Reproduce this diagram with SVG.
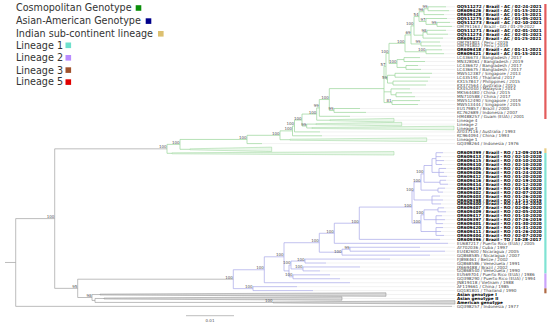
<svg xmlns="http://www.w3.org/2000/svg" width="550" height="324" viewBox="0 0 550 324">
<style>
path{fill:none;stroke-width:0.7}
.g{stroke:#98d498}.p{stroke:#a8a8e8}.k{stroke:#a0a0a0}
.gd{stroke:#e4e4e4;stroke-width:0.5}
.wg{fill:#eaf7ea;stroke:#98d498;stroke-width:0.5}
.wk{fill:#d8d8d8;stroke:#8a8a8a;stroke-width:0.5}
text{font-family:"DejaVu Sans",Verdana,sans-serif}
.lb{font-size:4.2px;fill:#444}
.b{font-weight:bold;fill:#000}
.s{font-size:4px;fill:#555;text-anchor:end}
.lg{font-size:9.6px;fill:#333}
</style>
<g id="legend">
<text class="lg" x="16" y="11">Cosmopolitan Genotype</text><rect x="135.7" y="5.2" width="5.6" height="5.6" fill="#0a8f0a"/>
<text class="lg" x="16" y="24">Asian-American Genotype</text><rect x="145.7" y="18.3" width="5.6" height="5.6" fill="#00008b"/>
<text class="lg" x="16" y="36.7">Indian sub-continent lineage</text><rect x="158" y="31" width="5.6" height="5.6" fill="#dcc070"/>
<text class="lg" x="16" y="48.7">Lineage 1</text><rect x="65.5" y="42.5" width="5.6" height="5.6" fill="#6ee0cc"/>
<text class="lg" x="16" y="61">Lineage 2</text><rect x="65.5" y="55" width="5.6" height="5.6" fill="#b98cff"/>
<text class="lg" x="16" y="73.7">Lineage 3</text><rect x="65.5" y="67.3" width="5.6" height="5.6" fill="#a0522d"/>
<text class="lg" x="16" y="85.3">Lineage 5</text><rect x="65.5" y="79.3" width="5.6" height="5.6" fill="#e00000"/>
</g>
<g id="bars">
<rect x="544.3" y="4" width="2.2" height="115" fill="#e35b5b"/>
<rect x="544.3" y="148.3" width="2.2" height="4.7" fill="#e8cf8a"/>
<rect x="544.3" y="153" width="2.2" height="120.5" fill="#7fe3d3"/>
<rect x="544.3" y="273.5" width="2.2" height="14.8" fill="#c9a3fa"/>
<rect x="544.3" y="288.3" width="2.2" height="5" fill="#b06a45"/>
</g>
<g id="connectors">
<path class="gd" d="M446 6.8H455M449 10.7H455M444 14.6H455M447 18.5H455M450 22.4H455M452 26.4H455M446 30.3H455M448 34.2H455M443 38.1H455M440 42H455M441 45.9H455M442 49.8H455M444 53.7H455M420 57.6H455M425 61.5H455M418 65.5H455M421 69.4H455M432 73.3H455M430 77.2H455M428 81.1H455M426 85H455M410 88.9H455M412 92.8H455M415 96.7H455M420 100.6H455M418 104.5H455M360 108.5H455M366 112.4H455M350 116.3H455M394 120.2H455M401.7 124.1H455M320 131.9H455M322 135.8H455M426.7 139.7H455M262 143.6H455
M443 152.7H455M441 156.64H455M444 160.58H455M442 164.52H455M446 168.46H455M444 172.4H455M447 176.34H455M446 180.28H455M448 184.22H455M445 188.16H455M443 192.1H455M440 196.04H455M443 199.98H455M441 203.92H455M444 207.86H455M446 211.8H455M442 215.74H455M445 219.68H455M443 223.62H455M443 227.56H455M441 231.5H455M444 235.44H455M440 239.38H455M448 243.32H455M420 247.26H455M445 251.2H455M430 255.14H455M390 259.08H455M326 263.02H455M360 266.96H455M320 270.9H455M330 274.84H455M340 278.78H455M350 282.72H455M297 286.66H455M313 290.6H455M386 294.54H455M342 298.48H455M452 306.36H455"/>
<path class="g" d="M446 6.8H428V10.7H449M428 8.75H424V14.6H444M450 22.4H437V26.4H452M447 18.5H426V24.4H437M424 11.7H419V21.45H426M446 30.3H427V34.2H448M427 32.25H423V38.1H443M419 16.56H414V35.18H423M440 42H421V45.9H441M414 25.87H411V43.95H421M442 49.8H426V53.7H444M411 34.91H405V51.75H426M420 57.6H404V61.5H425M418 65.5H406V69.4H421M404 59.55H397V67.45H406M405 43.33H389V63.5H397M432 73.3H395V77.2H430M428 81.1H393V85H426M395 75.25H387.5V83.05H393M389 53.41H386V79.15H387.5M412 92.8H396V96.7H415M410 88.9H391V94.75H396M420 100.6H392V104.5H418M386 66.28H384V102.55H392M384 91.83H391M360 108.5H334V112.4H366M384 88.6H329.3V110.45H334M329.3 99.53H319.3V116.3H350M319.3 107.9H316.7V120.2H330M316 124.1H306.7V128H312M316.7 114.05H302V126.05H306.7M302 120.05H294.5V131.9H320M294.5 125.98H292.5V135.8H322M292.5 130.89H280V139.7H290M280 135.3H247V143.6H262M247 139.45H180V149.3H190M180 144.38H167V153.3H172"/>
<path class="p" d="M436 152.7V164.52M436 152.7H443M436 156.64H441M436 160.58H444M436 164.52H442M439 168.46V176.34M439 168.46H446M439 172.4H444M439 176.34H447M436 158.61H432V172.4H439M446 180.28H440V184.22H448M432 165.5H424V182.25H440M445 188.16H438V192.1H443M424 173.88H421V190.13H438M432 196.04V203.92M432 196.04H440M432 199.98H443M432 203.92H441M421 182H414V199.98H432M444 207.86H438V211.8H446M436 215.74V223.62M436 215.74H442M436 219.68H445M436 223.62H443M438 209.83H424V219.68H436M436 227.56V235.44M436 227.56H443M436 231.5H441M436 235.44H444M424 214.76H421V231.5H436M414 191H412V223.13H421M412 207.07H359.3V239.38H440M359.3 223.23H334.3V243.32H448M420 247.26H350V251.2H445M350 249.23H342V255.14H430M334.3 233.28H319.3V252.19H342M390 259.08H305V263.02H326M360 266.96H303V270.9H320M305 261.05H291V268.93H303M330 274.84H293V278.78H340M291 264.99H289V276.81H293M319.3 242.73H284V270.9H289M284 256.8H264.3V282.72H350M297 286.66H253V290.6H313M264.3 269.76H233.3V288.63H253"/>
<path class="k" d="M167 148.84H54.7V288.35H77.7M233.3 279.2H77.7V297.5H92M100 294.54H92V300.45H95M104 298.48H95V302.42H273M54.7 218.6H15.7V306.36H452M5 262.48H15.7"/>
<polygon class="wg" points="330,119.7 394,118.4 394,122 330,120.7"/>
<polygon class="wg" points="316,123.6 401.7,122.3 401.7,125.9 316,124.6"/>
<polygon class="wg" points="312,127.5 454,126.2 454,129.8 312,128.5"/>
<polygon class="wg" points="290,139.2 426.7,137.9 426.7,141.5 290,140.2"/>
<polygon class="wg" points="190,148.8 271.7,147.1 271.7,151.5 190,149.8"/>
<polygon class="wg" points="172,152.8 394,151.6 394,155 172,153.8"/>
<polygon class="wk" points="100,294.1 386,292.8 386,296.3 100,295"/>
<polygon class="wk" points="104,298 342,296.8 342,300.2 104,299"/>
<polygon class="wk" points="273,302 455,300.7 455,304.1 273,302.9"/>
</g>
<g id="support">
<text class="s" x="427.6" y="8.25">99</text><text class="s" x="423.6" y="11.2">96</text><text class="s" x="436.6" y="23.9">99</text><text class="s" x="425.6" y="20.95">97</text><text class="s" x="418.6" y="16.06">54</text><text class="s" x="426.6" y="31.75">98</text><text class="s" x="413.6" y="25.37">100</text><text class="s" x="420.6" y="43.45">99</text><text class="s" x="410.6" y="34.41">69</text><text class="s" x="425.6" y="51.25">100</text><text class="s" x="404.6" y="42.83">100</text><text class="s" x="396.6" y="63">100</text><text class="s" x="388.6" y="52.9">100</text><text class="s" x="387.1" y="78.65">59</text><text class="s" x="385.6" y="65.78">57</text><text class="s" x="391.6" y="102.05">81</text><text class="s" x="333.6" y="109.95">99</text><text class="s" x="328.9" y="99.03">100</text><text class="s" x="318.9" y="107.4">99</text><text class="s" x="316.3" y="113.55">100</text><text class="s" x="306.3" y="125.55">99</text><text class="s" x="301.6" y="119.55">100</text><text class="s" x="294.1" y="125.48">100</text><text class="s" x="292.1" y="130.39">100</text><text class="s" x="279.6" y="134.8">100</text><text class="s" x="246.6" y="138.95">100</text><text class="s" x="179.6" y="143.88">100</text><text class="s" x="166.6" y="148.34">100</text><text class="s" x="54.3" y="218.1">100</text><text class="s" x="77.3" y="287.85">95</text><text class="s" x="91.6" y="297">98</text><text class="s" x="272.6" y="301.9">100</text><text class="s" x="232.9" y="278.7">100</text><text class="s" x="252.6" y="288.13">100</text><text class="s" x="263.9" y="269.26">100</text><text class="s" x="283.6" y="256.3">100</text><text class="s" x="318.9" y="242.23">100</text><text class="s" x="341.6" y="253.2">100</text><text class="s" x="349.6" y="248.73">99</text><text class="s" x="304.6" y="260.55">100</text><text class="s" x="302.6" y="268.43">100</text><text class="s" x="290.6" y="264.49">100</text><text class="s" x="292.6" y="276.31">100</text><text class="s" x="333.9" y="232.78">100</text><text class="s" x="358.9" y="222.73">100</text><text class="s" x="411.6" y="206.57">100</text><text class="s" x="423.6" y="173.38">100</text><text class="s" x="420.6" y="181.5">100</text><text class="s" x="413.6" y="190.5">100</text><text class="s" x="423.6" y="214.26">100</text><text class="s" x="420.6" y="222.63">100</text>
</g>
<g id="leaves">
<g id="n1"><text class="lb b" x="457" y="8.3">OQ511272 / Brazil - AC / 02-24-2021</text></g>
<g id="n2"><text class="lb b" x="457" y="12.2">OR609426 / Brazil - AC / 01-15-2021</text></g>
<g id="n3"><text class="lb b" x="457" y="16.1">OR609428 / Brazil - AC / 01-15-2021</text></g>
<g id="n4"><text class="lb b" x="457" y="20">OQ511275 / Brazil - AC / 01-05-2021</text></g>
<g id="n5"><text class="lb b" x="457" y="23.9">OQ511273 / Brazil - AC / 02-10-2021</text></g>
<g id="n6"><text class="lb" x="457" y="27.9">OM791163 / Brazil - GO / 01-29-2022</text></g>
<g id="n7"><text class="lb b" x="457" y="31.8">OQ511271 / Brazil - AC / 02-01-2021</text></g>
<g id="n8"><text class="lb b" x="457" y="35.7">OQ511274 / Brazil - AC / 02-01-2021</text></g>
<g id="n9"><text class="lb b" x="457" y="39.6">OR609422 / Brazil - AC / 01-25-2021</text></g>
<g id="n10"><text class="lb" x="457" y="43.5">OM791801 / Peru / 2019</text></g>
<g id="n11"><text class="lb" x="457" y="47.4">OM791802 / Peru / 2019</text></g>
<g id="n12"><text class="lb b" x="457" y="51.3">OR609418 / Brazil - AC / 01-11-2021</text></g>
<g id="n13"><text class="lb b" x="457" y="55.2">OR609421 / Brazil - AC / 01-15-2021</text></g>
<g id="n14"><text class="lb" x="457" y="59.1">LC436673 / Bangladesh / 2017</text></g>
<g id="n15"><text class="lb" x="457" y="63">MN328061 / Bangladesh / 2019</text></g>
<g id="n16"><text class="lb" x="457" y="67">LC436672 / Bangladesh / 2017</text></g>
<g id="n17"><text class="lb" x="457" y="70.9">LC436675 / Bangladesh / 2017</text></g>
<g id="n18"><text class="lb" x="457" y="74.8">MW512387 / Singapore / 2013</text></g>
<g id="n19"><text class="lb" x="457" y="78.7">LC435191 / Thailand / 2017</text></g>
<g id="n20"><text class="lb" x="457" y="82.6">KX157847 / Philippines / 2015</text></g>
<g id="n21"><text class="lb" x="457" y="86.5">KX372564 / Australia / 2015</text></g>
<g id="n22"><text class="lb" x="457" y="90.4">KX452040 / Malaysia / 2014</text></g>
<g id="n23"><text class="lb" x="457" y="94.3">MK564480 / China / 2015</text></g>
<g id="n24"><text class="lb" x="457" y="98.2">MN710588 / China / 2017</text></g>
<g id="n25"><text class="lb" x="457" y="102.1">MW512490 / Singapore / 2019</text></g>
<g id="n26"><text class="lb" x="457" y="106">MW513444 / Singapore / 2015</text></g>
<g id="n27"><text class="lb" x="457" y="110">EU179857 / Brazil / 2000</text></g>
<g id="n28"><text class="lb" x="457" y="113.9">KC762689 / Indonesia / 2007</text></g>
<g id="n29"><text class="lb" x="457" y="117.8">HM488257 / Guam (EUA) / 2001</text></g>
<g id="n30"><text class="lb" x="457" y="121.7">Lineage 4</text></g>
<g id="n31"><text class="lb" x="457" y="125.6">Lineage 2</text></g>
<g id="n32"><text class="lb" x="457" y="129.5">Lineage 3</text></g>
<g id="n33"><text class="lb" x="457" y="133.4">AY037116 / Australia / 1993</text></g>
<g id="n34"><text class="lb" x="457" y="137.3">KC964094 / China / 1993</text></g>
<g id="n35"><text class="lb" x="457" y="141.2">Lineage 1</text></g>
<g id="n36"><text class="lb" x="457" y="145.1">GQ398264 / Indonesia / 1976</text></g>
<g id="m1"><text class="lb b" x="457" y="154.2">OR609399 / Brazil - RO / 12-09-2019</text></g>
<g id="m2"><text class="lb b" x="457" y="158.1">OR609413 / Brazil - RO / 02-10-2020</text></g>
<g id="m3"><text class="lb b" x="457" y="162.1">OR609415 / Brazil - RO / 03-10-2020</text></g>
<g id="m4"><text class="lb b" x="457" y="166">OR609410 / Brazil - RO / 02-10-2020</text></g>
<g id="m5"><text class="lb b" x="457" y="170">OR609405 / Brazil - RO / 02-19-2020</text></g>
<g id="m6"><text class="lb b" x="457" y="173.9">OR609406 / Brazil - RO / 01-24-2020</text></g>
<g id="m7"><text class="lb b" x="457" y="177.8">OR609412 / Brazil - RO / 01-20-2020</text></g>
<g id="m8"><text class="lb b" x="457" y="181.8">OR609416 / Brazil - RO / 02-19-2020</text></g>
<g id="m9"><text class="lb b" x="457" y="185.7">OR609414 / Brazil - RO / 02-12-2020</text></g>
<g id="m10"><text class="lb b" x="457" y="189.7">OR609419 / Brazil - RO / 01-18-2020</text></g>
<g id="m11"><text class="lb b" x="457" y="193.6">OR609402 / Brazil - RO / 02-07-2020</text></g>
<g id="m12"><text class="lb b" x="457" y="197.5">OR609403 / Brazil - RO / 01-26-2020</text></g>
<g id="m13"><text class="lb b" x="457" y="201.5">OR609398 / Brazil - RO / 11-11-2019</text></g>
<g id="m14"><text class="lb b" x="457" y="205.4">OR609400 / Brazil - RO / 01-12-2020</text></g>
<g id="m15"><text class="lb b" x="457" y="209.4">OR609407 / Brazil - RO / 02-06-2020</text></g>
<g id="m16"><text class="lb b" x="457" y="213.3">OR609409 / Brazil - RO / 02-05-2020</text></g>
<g id="m17"><text class="lb b" x="457" y="217.2">OR609417 / Brazil - RO / 01-10-2020</text></g>
<g id="m18"><text class="lb b" x="457" y="221.2">OR609397 / Brazil - RO / 07-26-2019</text></g>
<g id="m19"><text class="lb b" x="457" y="225.1">OR609401 / Brazil - RO / 01-30-2020</text></g>
<g id="m20"><text class="lb b" x="457" y="229.1">OR609420 / Brazil - RO / 01-31-2020</text></g>
<g id="m21"><text class="lb b" x="457" y="233">OR609411 / Brazil - RO / 01-26-2020</text></g>
<g id="m22"><text class="lb b" x="457" y="236.9">OR609404 / Brazil - RO / 02-07-2020</text></g>
<g id="m23"><text class="lb b" x="457" y="240.9">OR609396 / Brazil - TO / 10-28-2017</text></g>
<g id="m24"><text class="lb" x="457" y="244.8">EU687217 / Puerto Rico (EUA) / 2005</text></g>
<g id="m25"><text class="lb" x="457" y="248.8">AY702036 / Cuba / 1997</text></g>
<g id="m26"><text class="lb" x="457" y="252.7">EU482600 / Nicaragua / 2005</text></g>
<g id="m27"><text class="lb" x="457" y="256.6">GQ868585 / Nicaragua / 2007</text></g>
<g id="m28"><text class="lb" x="457" y="260.6">FJ898461 / Belize / 2002</text></g>
<g id="m29"><text class="lb" x="457" y="264.5">GQ868586 / Venezuela / 1991</text></g>
<g id="m30"><text class="lb" x="457" y="268.5">JX669488 / Brazil / 2002</text></g>
<g id="m31"><text class="lb" x="457" y="272.4">GQ868540 / Venezuela / 1990</text></g>
<g id="m32"><text class="lb" x="457" y="276.3">EU569704 / Puerto Rico (EUA) / 1986</text></g>
<g id="m33"><text class="lb" x="457" y="280.3">GQ398290 / Puerto Rico (EUA) / 1994</text></g>
<g id="m34"><text class="lb" x="457" y="284.2">JN819418 / Vietnam / 1988</text></g>
<g id="m35"><text class="lb" x="457" y="288.2">AF119661 / China / 1985</text></g>
<g id="m36"><text class="lb" x="457" y="292.1">GQ181801 / Thailand / 1990</text></g>
<g id="m37"><text class="lb b" x="457" y="296">Asian genotype I</text></g>
<g id="m38"><text class="lb b" x="457" y="300">Asian genotype II</text></g>
<g id="m39"><text class="lb b" x="457" y="303.9">American genotype</text></g>
<g id="m40"><text class="lb" x="457" y="307.9">GQ398257 / Indonesia / 1977</text></g>
</g>
<g id="scale">
<path class="k" d="M186 315.7H234"/>
<text class="s" x="210" y="321.5" style="text-anchor:middle">0.01</text>
</g>
</svg>
